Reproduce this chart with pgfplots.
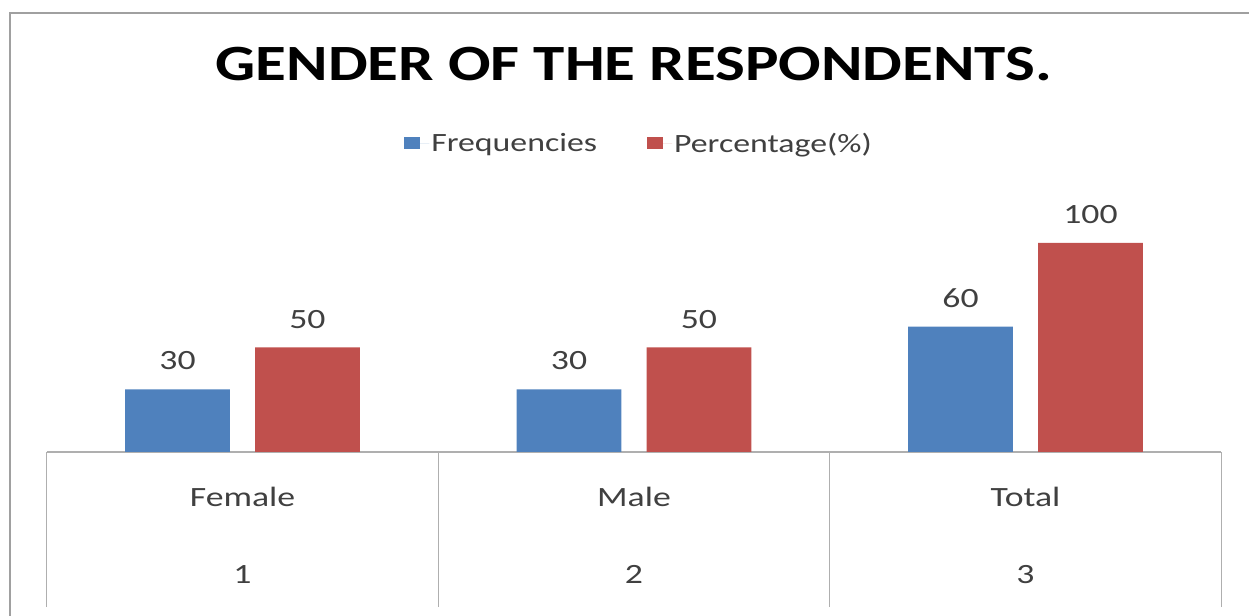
\documentclass[border=0pt]{standalone}
\usepackage{pgfplots}
\pgfplotsset{compat=1.18}
\usepackage{fontspec}
\setmainfont{Carlito}[FakeStretch=1.28]
\newfontfamily\titlefont{Carlito}[FakeStretch=1.24]
\definecolor{cblue}{RGB}{79,129,189}
\definecolor{cred}{RGB}{192,80,77}
\definecolor{txt}{RGB}{64,64,64}
\definecolor{frm}{RGB}{160,160,160}
\definecolor{axl}{RGB}{175,175,175}
\begin{document}
\begin{tikzpicture}[x=1bp,y=1bp]
\useasboundingbox (0,0) rectangle (1249,616);
\draw[frm, line width=2.5bp] (10,-5) -- (10,603) -- (1249,603);
\begin{axis}[
  at={(46.75bp,164bp)}, anchor=south west,
  scale only axis, width=1174.5bp, height=250.8bp,
  xmin=-0.5, xmax=2.5, ymin=0, ymax=120,
  ybar, bar width=0.268,
  hide y axis,
  axis x line*=bottom,
  x axis line style={draw=axl, line width=1.2bp, -},
  xtick={-0.5,0.5,1.5,2.5}, xticklabels={,,,},
  tick align=outside, major tick length=155bp,
  x tick style={draw=axl, line width=1.2bp},
  extra x ticks={0,1,2},
  extra x tick labels={{Female\\1},{Male\\2},{Total\\3}},
  extra x tick style={major tick length=0pt, x tick style={draw=none}},
  xticklabel style={align=center, font=\fontsize{28}{77}\selectfont, text=txt, yshift=-32bp},
  nodes near coords,
  nodes near coords style={font=\fontsize{28}{30}\selectfont, text=txt, inner sep=0pt, anchor=south, yshift=19bp},
  /pgf/number format/assume math mode=true,
  clip=false,
  title={GENDER OF THE RESPONDENTS.},
  title style={font=\titlefont\bfseries\fontsize{51}{60}\selectfont, at={(0.5,1)}, anchor=center, yshift=131bp},
  legend style={draw=none, at={(0.5,1)}, anchor=center, yshift=58bp, xshift=5bp, legend columns=2,
    font=\fontsize{26.5}{30}\selectfont, text=txt,
    /tikz/every even column/.append style={column sep=48bp}},
  legend image code/.code={\fill[#1,draw=none] (0bp,-6bp) rectangle (16bp,6bp); \path (0bp,0bp) -- (25bp,0bp);},
]
\addplot[fill=cblue, draw=none, bar shift=-0.166] coordinates {(0,30) (1,30) (2,60)};
\addplot[fill=cred, draw=none, bar shift=0.166] coordinates {(0,50) (1,50) (2,100)};
\legend{Frequencies, Percentage(\%)}
\end{axis}
\end{tikzpicture}
\end{document}
